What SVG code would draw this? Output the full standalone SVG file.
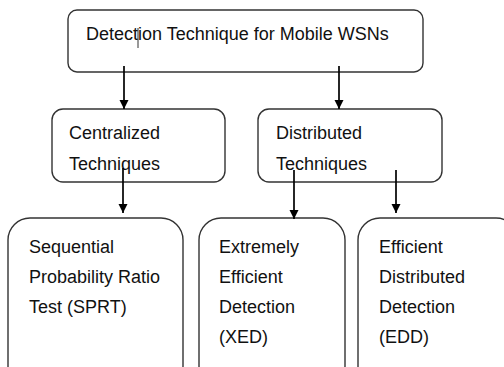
<svg xmlns="http://www.w3.org/2000/svg" width="504" height="367" viewBox="0 0 504 367">
<style>
.box{fill:#fff;stroke:#333;stroke-width:1.4}
.t{font-family:"Liberation Sans",Arial,sans-serif;font-size:18px;fill:#111}
.c{stroke:#000;stroke-width:1.7;fill:none}
</style>
<defs>
<marker id="ah" viewBox="0 0 10 10" refX="10" refY="5" markerWidth="9" markerHeight="9" markerUnits="userSpaceOnUse" orient="auto" style="overflow:visible">
<path d="M0,0 L10,5 L0,10 z" fill="#000"/>
</marker>
</defs>
<rect width="504" height="367" fill="#fff"/>
<g id="root">
<rect class="box" x="68" y="10" width="355" height="62" rx="9"/>
<text class="t" x="86" y="40">Detection Technique for Mobile WSNs</text>
<line x1="138" y1="28" x2="138" y2="48" stroke="#333" stroke-width="1"/>
</g>
<g id="centralized">
<rect class="box" x="52" y="109" width="173" height="73" rx="11"/>
<text class="t" x="69" y="139">Centralized</text>
<text class="t" x="69" y="170">Techniques</text>
</g>
<g id="distributed">
<rect class="box" x="258" y="109" width="184" height="73" rx="11"/>
<text class="t" x="276" y="139">Distributed</text>
<text class="t" x="276" y="170">Techniques</text>
</g>
<g id="sprt">
<rect class="box" x="8" y="218" width="175" height="170" rx="22"/>
<text class="t" x="29" y="253">Sequential</text>
<text class="t" x="29" y="283">Probability Ratio</text>
<text class="t" x="29" y="313">Test (SPRT)</text>
</g>
<g id="xed">
<rect class="box" x="199" y="218" width="146" height="170" rx="22"/>
<text class="t" x="219" y="253">Extremely</text>
<text class="t" x="219" y="283">Efficient</text>
<text class="t" x="219" y="313">Detection</text>
<text class="t" x="219" y="343">(XED)</text>
</g>
<g id="edd">
<rect class="box" x="358" y="218" width="160" height="170" rx="22"/>
<text class="t" x="379" y="253">Efficient</text>
<text class="t" x="379" y="283">Distributed</text>
<text class="t" x="379" y="313">Detection</text>
<text class="t" x="379" y="343">(EDD)</text>
</g>
<g id="connectors">
<line class="c" x1="124" y1="66" x2="124" y2="109" marker-end="url(#ah)"/>
<line class="c" x1="339" y1="66" x2="339" y2="109" marker-end="url(#ah)"/>
<line class="c" x1="123" y1="168" x2="123" y2="213" marker-end="url(#ah)"/>
<line class="c" x1="294" y1="170" x2="294" y2="219" marker-end="url(#ah)"/>
<line class="c" x1="396" y1="170" x2="396" y2="213" marker-end="url(#ah)"/>
</g>
</svg>
